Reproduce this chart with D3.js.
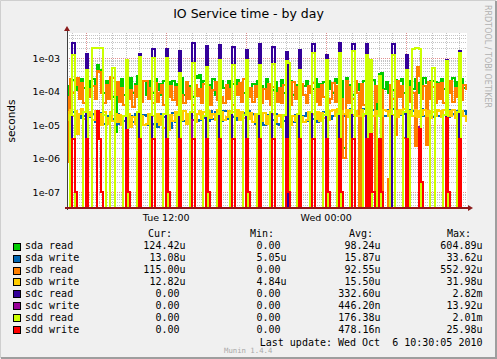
<!DOCTYPE html>
<html>
<head>
<meta charset="utf-8">
<script src="https://cdn.jsdelivr.net/npm/d3@7"></script>
<style>
  html, body { margin: 0; padding: 0; background: #f0f0f0; }
  svg { display: block; }
  text { font-family: "DejaVu Sans", sans-serif; fill: #000; }
  .mono { font-family: "DejaVu Sans Mono", monospace; font-size: 10px; white-space: pre; }
</style>
</head>
<body>
<div class="wrapper"></div>
<script>
width = 497;
height = 359;

// 10 minute samples, Tue 04:30 .. Wed 10:30, values in microseconds
startTime = new Date(2010, 9, 5, 4, 30);
stepMin = 10;

sdaRead = [
  2, 150, 90, 220, 110, 180, 70, 240, 130, 90, 200, 110,
  230, 120, 600, 450, 300, 90, 200, 110, 180, 70, 6, 160,
  110, 230, 80, 190, 120, 260, 90, 170, 300, 280, 100, 200,
  80, 210, 130, 90, 240, 110, 170, 80, 210, 120, 190, 90,
  200, 90, 170, 120, 250, 80, 190, 110, 150, 70, 300, 250,
  320, 110, 200, 90, 160, 120, 230, 80, 180, 100, 210, 130,
  90, 200, 120, 170, 80, 220, 110, 160, 90, 190, 120, 80,
  170, 100, 210, 80, 150, 120, 230, 90, 160, 110, 190, 80,
  120, 220, 90, 170, 110, 200, 80, 160, 120, 240, 90, 150,
  200, 90, 150, 120, 230, 80, 170, 110, 190, 90, 210, 120,
  90, 230, 180, 120, 200, 2, 250, 100, 160, 80, 190, 110,
  170, 90, 200, 110, 160, 80, 220, 1.5, 130, 330, 350, 120,
  190, 90, 160, 110, 220, 130, 200, 230, 90, 170, 110, 200,
  120, 230, 90, 180, 140, 260, 180, 100, 210, 200, 190, 110,
  180, 240, 120, 200, 90, 170, 250, 110, 190, 200, 230, 125,
  124.42
];

sdaWrite = [
  18, 26, 15, 24, 13, 22, 16, 25, 19, 14, 23, 17,
  22, 12, 20, 14, 23, 11, 19, 13, 24, 15, 10, 21,
  11, 19, 13, 21, 10, 18, 12, 22, 9, 17, 14, 20,
  19, 10, 20, 11, 18, 9, 21, 12, 17, 10, 19, 8,
  23, 12, 21, 15, 25, 13, 22, 11, 24, 14, 20, 13,
  14, 25, 16, 23, 13, 26, 15, 24, 17, 22, 13, 27,
  26, 15, 24, 17, 27, 14, 25, 16, 23, 18, 26, 15,
  21, 11, 19, 13, 22, 10, 20, 12, 18, 14, 21, 11,
  10, 19, 13, 21, 11, 18, 12, 20, 10, 22, 13, 18,
  23, 13, 22, 15, 24, 12, 21, 16, 25, 14, 23, 15,
  19, 29, 20, 27, 33, 19, 28, 21, 30, 18, 27, 20,
  28, 19, 30, 21, 27, 18, 29, 20, 26, 22, 31, 19,
  19, 28, 21, 30, 18, 27, 20, 29, 22, 26, 19, 28,
  27, 19, 26, 21, 30, 18, 28, 20, 27, 17, 29, 19,
  18, 27, 20, 29, 17, 28, 21, 26, 19, 30, 18, 27,
  13.08
];

sdbRead = [
  70, 0.8, 230, 90, 160, 260, 60, 180, 45, 210, 120, 70,
  150, 60, 400, 380, 90, 45, 160, 60, 270, 250, 80, 190,
  50, 130, 40, 170, 60, 110, 35, 150, 70, 200, 50, 210,
  200, 60, 130, 45, 180, 50, 90, 160, 40, 120, 70, 150,
  55, 140, 40, 170, 80, 45, 190, 60, 130, 40, 160, 75,
  120, 45, 170, 60, 140, 40, 110, 190, 55, 130, 70, 45,
  160, 60, 120, 40, 150, 80, 180, 50, 230, 260, 70, 130,
  50, 150, 70, 180, 45, 120, 60, 170, 40, 140, 90, 50,
  130, 45, 160, 70, 110, 40, 190, 60, 140, 50, 170, 80,
  45, 150, 90, 180, 50, 120, 40, 160, 70, 130, 45, 60,
  180, 50, 150, 250, 60, 1, 200, 45, 140, 60, 200, 90,
  0, 170, 40, 130, 60, 220, 0, 150, 50, 180, 110, 0,
  0, 0.25, 160, 60, 5, 200, 70, 150, 4, 180, 50, 140,
  90, 2.4, 550, 300, 60, 150, 2.5, 190, 60, 140, 45, 170,
  60, 180, 45, 150, 90, 200, 50, 130, 70, 190, 55, 160,
  115
];

sdbWrite = [
  25, 14, 28, 18, 26, 5.5, 22, 30, 15, 27, 18, 24,
  14, 26, 12, 22, 10, 24, 16, 11, 25, 13, 21, 12,
  20, 10, 18, 12, 22, 9, 17, 11, 23, 12, 19, 10,
  11, 21, 9, 18, 12, 22, 10, 19, 8, 17, 7, 20,
  13, 24, 12, 20, 14, 26, 11, 22, 15, 25, 12, 21,
  26, 15, 24, 13, 27, 16, 22, 14, 28, 17, 25, 14,
  17, 27, 15, 25, 18, 28, 14, 24, 16, 26, 15, 23,
  12, 22, 10, 20, 13, 23, 11, 18, 9, 21, 12, 19,
  20, 9, 18, 12, 22, 10, 19, 13, 21, 11, 17, 12,
  14, 24, 12, 21, 15, 25, 13, 23, 16, 22, 14, 26,
  28, 18, 30, 19, 27, 21, 29, 17, 28, 20, 26, 18,
  19, 29, 18, 27, 20, 31, 18, 26, 21, 30, 19, 28,
  27, 18, 29, 20, 26, 17, 28, 21, 30, 19, 27, 18,
  18, 28, 17, 26, 20, 29, 19, 27, 16, 25, 18, 28,
  26, 17, 28, 19, 27, 18, 29, 16, 25, 20, 27, 19,
  12.82
];

sdcRead = [
  0, 0, 0, 2800, 0, 0, 0, 0, 0, 1300, 0, 0,
  0, 0, 0, 0, 0, 0, 0, 0, 0, 0, 0, 0,
  0, 0, 0, 900, 0, 0, 0, 0, 0, 1300, 0, 0,
  0, 0, 0, 1900, 0, 0, 0, 0, 0, 1800, 0, 0,
  0, 0, 0, 1600, 0, 0, 0, 0, 0, 2800, 0, 0,
  0, 0, 0, 2300, 0, 0, 0, 0, 0, 2400, 0, 0,
  0, 0, 0, 2200, 0, 0, 0, 0, 0, 1700, 0, 0,
  0, 0, 0, 2600, 0, 0, 0, 0, 0, 2200, 0, 0,
  0, 0, 0, 1500, 0, 0, 0, 0, 0, 1700, 0, 0,
  0, 0, 0, 2600, 0, 0, 0, 0, 0, 1200, 0, 0,
  0, 0, 0, 2820, 0, 0, 0, 0, 0, 2700, 0, 0,
  0, 0, 0, 2700, 0, 0, 0, 0, 0, 0, 0, 0,
  0, 0, 0, 2600, 0, 0, 0, 0, 0, 1250, 0, 0,
  0, 0, 0, 0, 0, 0, 0, 0, 0, 0, 0, 0,
  0, 0, 0, 900, 0, 0, 0, 0, 0, 1600, 0, 0,
  0
];

sdcWrite = [
  0, 0, 0, 0, 0, 0, 0, 0, 0, 0, 0, 0,
  0, 0, 0, 0, 0, 0, 0, 0, 0, 0, 0, 0,
  0, 0, 0, 0, 0, 0, 0, 0, 0, 0, 0, 0,
  0, 0, 0, 0, 0, 0, 0, 0, 0, 0, 0, 0,
  0, 0, 0, 0, 0, 0, 0, 0, 0, 13.9, 0, 0,
  0, 0, 0, 0, 0, 0, 0, 0, 0, 0, 0, 0,
  0, 0, 0, 0, 0, 0, 0, 0, 0, 0, 0, 0,
  0, 0, 0, 0, 0, 0, 0, 0, 0, 0, 0, 0,
  0, 0, 0, 0, 0, 0, 0, 0, 0, 0, 0, 0,
  0, 0, 0, 0, 0, 0, 0, 0, 0, 0, 0, 0,
  0, 0, 0, 0, 0, 0, 0, 0, 0, 0, 0, 0,
  0, 0, 0, 0, 0, 0, 0, 0, 0, 0, 0, 0,
  0, 0, 0, 0, 0, 0, 0, 0, 0, 0, 0, 0,
  0, 0, 0, 8.5, 0, 0, 0, 0, 0, 0, 0, 0,
  0, 0, 0, 0, 0, 0, 0, 0, 0, 0, 0, 0,
  0
];

sddRead = [
  0, 0, 20, 1200, 0, 0, 0, 0, 25, 450, 0, 0,
  2010, 2000, 1990, 2000, 1980, 20, 0, 0, 22, 500, 0, 0,
  0, 0, 18, 850, 0, 0, 0, 0, 25, 1100, 0, 0,
  0, 0, 20, 1000, 0, 0, 0, 0, 22, 1000, 0, 0,
  0, 0, 20, 350, 0, 0, 0, 0, 24, 700, 0, 0,
  0, 0, 19, 550, 0, 0, 0, 0, 21, 900, 0, 0,
  0, 0, 23, 600, 0, 0, 0, 0, 20, 900, 0, 0,
  0, 0, 22, 600, 0, 0, 0, 0, 25, 650, 0, 0,
  0, 0, 20, 800, 700, 0, 0, 0, 21, 450, 0, 0,
  0, 0, 24, 1400, 0, 0, 0, 0, 20, 900, 0, 0,
  0, 0, 22, 1400, 0, 0, 0, 0, 23, 1600, 0, 0,
  0, 0, 21, 1200, 0, 900, 0, 0, 18, 300, 0, 0,
  0, 0, 22, 1200, 0, 0, 0, 0, 25, 450, 0, 20,
  1900, 2000, 1950, 1900, 0, 0, 0, 0, 20, 500, 0, 0,
  0, 0, 20, 800, 0, 0, 0, 0, 24, 1400, 0, 0,
  0
];

sddWrite = [
  0, 0, 0, 3.9, 0.1, 0, 0, 0, 0, 3.9, 0, 0,
  0, 0, 26, 3.9, 0.1, 0, 0, 0, 0, 0, 0, 0,
  0, 0, 0, 7, 0.1, 0, 0, 0, 0, 3.9, 0, 0,
  0, 0, 0, 3.9, 0, 0, 0, 0, 0, 3.9, 0.1, 0,
  0, 0, 0, 3.9, 0, 0, 0, 0, 0, 3.9, 0, 0,
  0, 0, 0, 3.9, 0.1, 0, 0, 0, 0, 3.9, 0, 0,
  0, 0, 0, 3.9, 0, 0, 0, 0, 0, 3.9, 0.1, 0,
  0, 0, 0, 3.9, 0, 0, 0, 0, 0, 3.9, 0, 0,
  0, 0, 0, 3.9, 0.1, 0, 0, 0, 0, 3.9, 0, 0,
  0, 0, 0, 3.9, 0, 0, 0, 0, 0, 3.9, 0.1, 0,
  0, 0, 0, 3.9, 0.1, 0, 0, 0, 0, 3.9, 0, 0,
  0, 0, 0, 3.9, 0, 5.5, 0.1, 0, 0, 3.9, 0.1, 0,
  0, 0, 0, 0, 0, 0, 0, 0, 0, 3.9, 0, 0,
  0, 0, 0, 7.5, 0.2, 0, 0, 0, 0, 0, 0, 0,
  0, 0, 0, 16, 0.1, 0, 0, 0, 0, 3.9, 0, 0,
  0
];

seriesNames = ["sda read", "sda write", "sdb read", "sdb write", "sdc read", "sdc write", "sdd read", "sdd write"];
seriesColors = ["#00CC00", "#0066B3", "#FF8000", "#FFCC00", "#330099", "#990099", "#CCFF00", "#FF0000"];
seriesValues = [sdaRead, sdaWrite, sdbRead, sdbWrite, sdcRead, sdcWrite, sddRead, sddWrite];

curVals = ["124.42u", "13.08u", "115.00u", "12.82u", "0.00 ", "0.00 ", "0.00 ", "0.00 "];
minVals = ["0.00 ", "5.05u", "0.00 ", "4.84u", "0.00 ", "0.00 ", "0.00 ", "0.00 "];
avgVals = ["98.24u", "15.87u", "92.55u", "15.50u", "332.60u", "446.20n", "176.38u", "478.16n"];
maxVals = ["604.89u", "33.62u", "552.92u", "31.98u", "2.82m", "13.92u", "2.01m", "25.98u"];

yTicks = [1e-3, 1e-4, 1e-5, 1e-6, 1e-7];
yTickLabels = ["1e-03", "1e-04", "1e-05", "1e-06", "1e-07"];
xTicks = [new Date(2010, 9, 5, 12, 0), new Date(2010, 9, 6, 0, 0)];
xTickLabels = ["Tue 12:00", "Wed 00:00"];

/* Plot geometry (window.top is reserved, so prefixed names) */
plotL = 67; plotR = 467; plotT = 33; plotB = 208;

scaleX = d3.scaleTime()
  .domain([new Date(2010, 9, 5, 4, 36), new Date(2010, 9, 6, 10, 36)])
  .range([plotL, plotR]);
scaleY = d3.scaleLog().domain([3.33e-8, 5.57e-3]).range([plotB, plotT]);

svg = d3.select(".wrapper")
  .append("svg")
  .attr("width", width)
  .attr("height", height)
  .attr("viewBox", "0 0 " + width + " " + height);

// background and 3d frame
svg.append("rect").attr("width", width).attr("height", height).attr("fill", "#f0f0f0");
svg.append("path")
  .attr("d", "M0.5," + (height - 1) + "V0.5H" + (width - 1))
  .attr("fill", "none").attr("stroke", "#cfcfcf");
svg.append("path")
  .attr("d", "M1," + (height - 1) + "H" + (width - 1) + "V1")
  .attr("fill", "none").attr("stroke", "#9e9e9e").attr("stroke-width", 2);

svg.append("rect")
  .attr("x", plotL).attr("y", plotT)
  .attr("width", plotR - plotL).attr("height", plotB - plotT)
  .attr("fill", "#ffffff");

/* Grid */

function drawGrid() {
  var minorY = [];
  for (var e = -8; e <= -3; e++) {
    for (var m = 2; m <= 9; m++) {
      var v = m * Math.pow(10, e);
      if (v > scaleY.domain()[0] && v < scaleY.domain()[1]) minorY.push(v);
    }
  }
  var hours = scaleX.ticks(d3.timeHour.every(1));
  var sixHours = hours.filter(function (d) { return d.getHours() % 6 == 0; });
  var oneHours = hours.filter(function (d) { return d.getHours() % 6 != 0; });

  var grid = svg.append("g").attr("class", "grid")
    .attr("shape-rendering", "crispEdges")
    .attr("stroke-dasharray", "1,1");

  grid.selectAll(".hminor").data(minorY).enter().append("line")
    .attr("x1", plotL).attr("x2", plotR)
    .attr("y1", function (d) { return Math.round(scaleY(d)) + 0.5; })
    .attr("y2", function (d) { return Math.round(scaleY(d)) + 0.5; })
    .attr("stroke", "#c4c4c4");
  grid.selectAll(".vminor").data(oneHours).enter().append("line")
    .attr("y1", plotT).attr("y2", plotB)
    .attr("x1", function (d) { return Math.round(scaleX(d)) + 0.5; })
    .attr("x2", function (d) { return Math.round(scaleX(d)) + 0.5; })
    .attr("stroke", "#c4c4c4");
  grid.selectAll(".hmajor").data(yTicks).enter().append("line")
    .attr("x1", plotL).attr("x2", plotR)
    .attr("y1", function (d) { return Math.round(scaleY(d)) + 0.5; })
    .attr("y2", function (d) { return Math.round(scaleY(d)) + 0.5; })
    .attr("stroke", "#e09090");
  grid.selectAll(".vmajor").data(sixHours).enter().append("line")
    .attr("y1", plotT).attr("y2", plotB)
    .attr("x1", function (d) { return Math.round(scaleX(d)) + 0.5; })
    .attr("x2", function (d) { return Math.round(scaleX(d)) + 0.5; })
    .attr("stroke", "#e09090");
}

/* Series */

function drawSeries() {
  svg.append("clipPath").attr("id", "plotclip")
    .append("rect")
    .attr("x", plotL).attr("y", plotT)
    .attr("width", plotR - plotL).attr("height", plotB - plotT);

  var line = d3.line()
    .curve(d3.curveStepAfter)
    .x(function (d) { return Math.round(scaleX(d.t)); })
    .y(function (d) { return d.v > 0 ? Math.round(scaleY(d.v * 1e-6)) : plotB + 4; });

  var data = seriesValues.map(function (vals) {
    var pts = vals.map(function (v, i) {
      return { t: new Date(startTime.getTime() + i * stepMin * 60000), v: v };
    });
    // hold the last sample to the right edge
    pts.push({ t: scaleX.domain()[1], v: vals[vals.length - 1] });
    return pts;
  });

  svg.append("g").attr("clip-path", "url(#plotclip)")
    .selectAll(".series")
    .data(data)
    .enter().append("path")
    .attr("class", "series")
    .attr("d", line)
    .attr("fill", "none")
    .attr("stroke", function (d, i) { return seriesColors[i]; })
    .attr("stroke-width", 2)
    .attr("stroke-linejoin", "miter");
}

/* Axes */

function drawAxes() {
  var yAxis = svg.append("g")
    .attr("transform", "translate(" + plotL + ",0)")
    .call(d3.axisLeft(scaleY).tickValues(yTicks)
      .tickSize(0).tickPadding(7)
      .tickFormat(function (d, i) { return yTickLabels[i]; }));
  yAxis.select(".domain").remove();
  yAxis.selectAll("text").style("font-size", "9.5px").style("font-family", "DejaVu Sans");

  var xAxis = svg.append("g")
    .attr("transform", "translate(0," + plotB + ")")
    .call(d3.axisBottom(scaleX).tickValues(xTicks)
      .tickSize(0).tickPadding(6)
      .tickFormat(function (d, i) { return xTickLabels[i]; }));
  xAxis.select(".domain").remove();
  xAxis.selectAll("text").style("font-size", "9.5px").style("font-family", "DejaVu Sans");

  // axis lines and arrows
  svg.append("line")
    .attr("x1", plotL + 0.5).attr("x2", plotL + 0.5)
    .attr("y1", 30).attr("y2", plotB + 2)
    .attr("stroke", "#404040");
  svg.append("line")
    .attr("x1", plotL - 2).attr("x2", plotR + 2)
    .attr("y1", plotB).attr("y2", plotB)
    .attr("stroke", "#901818").attr("stroke-width", 2);
  svg.append("path")
    .attr("d", "M64,31L70,31L67,26Z").attr("fill", "#8b1c1c");
  svg.append("path")
    .attr("d", "M468,205L468,211L473,208Z").attr("fill", "#8b1c1c");
}

/* Titles */

function drawTitles() {
  svg.append("text")
    .attr("x", 248.5).attr("y", 18)
    .attr("text-anchor", "middle")
    .style("font-size", "12.5px")
    .text("IO Service time - by day");

  svg.append("text")
    .attr("transform", "translate(15,121) rotate(-90)")
    .attr("text-anchor", "middle")
    .style("font-size", "10.5px")
    .text("seconds");

  svg.append("text")
    .attr("transform", "translate(485,5) rotate(90)")
    .style("font-size", "8px")
    .style("fill", "#b0b0b0")
    .text("RRDTOOL / TOBI OETIKER");
}

/* Legend */

function drawLegend() {
  var rowY = function (i) { return 249.2 + i * 11.9; };
  var lg = svg.append("g").attr("class", "legend");

  lg.append("text").attr("class", "mono").attr("x", 148).attr("y", 236.5).text("Cur:");
  lg.append("text").attr("class", "mono").attr("x", 250).attr("y", 236.5).text("Min:");
  lg.append("text").attr("class", "mono").attr("x", 349).attr("y", 236.5).text("Avg:");
  lg.append("text").attr("class", "mono").attr("x", 447).attr("y", 236.5).text("Max:");

  var rows = lg.selectAll(".row")
    .data(seriesNames)
    .enter().append("g")
    .attr("class", "row");

  rows.append("rect")
    .attr("x", 13.5)
    .attr("y", function (d, i) { return Math.round(rowY(i) - 6.5) + 0.5; })
    .attr("width", 7).attr("height", 7)
    .attr("fill", function (d, i) { return seriesColors[i]; })
    .attr("stroke", "#000");

  rows.append("text").attr("class", "mono")
    .attr("x", 25).attr("y", function (d, i) { return rowY(i); })
    .text(function (d) { return d; });

  var cols = [[curVals, 185.5], [minVals, 286.5], [avgVals, 380.5], [maxVals, 482.5]];
  cols.forEach(function (c) {
    rows.append("text").attr("class", "mono")
      .attr("xml:space", "preserve")
      .attr("text-anchor", "end")
      .attr("x", c[1]).attr("y", function (d, i) { return rowY(i); })
      .text(function (d, i) { return c[0][i]; });
  });

  lg.append("text").attr("class", "mono")
    .attr("xml:space", "preserve")
    .attr("text-anchor", "end")
    .attr("x", 482.5).attr("y", 345.5)
    .text("Last update: Wed Oct  6 10:30:05 2010");

  lg.append("text")
    .attr("x", 224).attr("y", 352.5)
    .style("font-family", "DejaVu Sans Mono")
    .style("font-size", "7.3px")
    .style("fill", "#a8a8a8")
    .text("Munin 1.4.4");
}

drawGrid();
drawSeries();
drawAxes();
drawTitles();
drawLegend();
</script>
</body>
</html>
